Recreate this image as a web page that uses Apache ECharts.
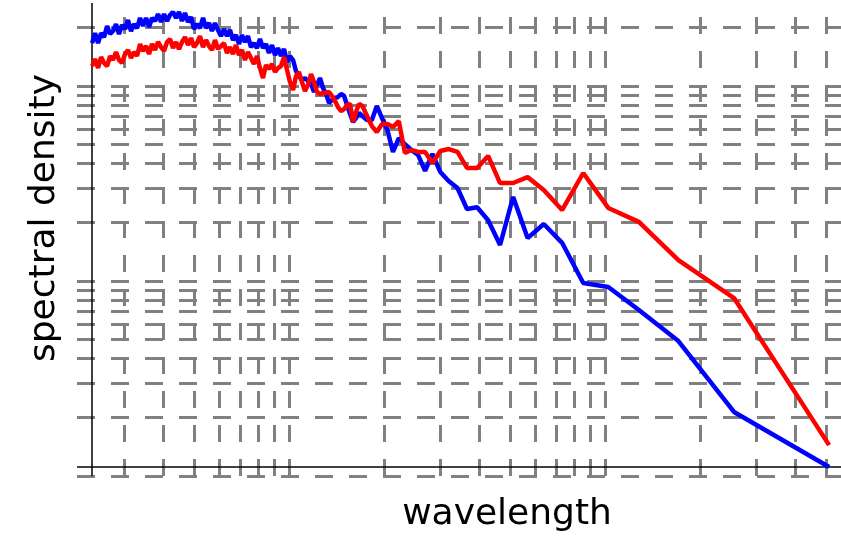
<!DOCTYPE html>
<html>
<head>
<meta charset="utf-8">
<script src="https://cdn.jsdelivr.net/npm/echarts@6/dist/echarts.min.js"></script>
<style>
  html, body { margin: 0; padding: 0; background: #fff; }
  #chart { width: 841px; height: 540px; }
</style>
</head>
<body>
<div id="chart"></div>
<script>
// wavelength samples (shared by both curves), ascending
const wavelength = [
  2.381, 2.433, 2.487, 2.542, 2.598, 2.656, 2.714, 2.773, 2.835, 2.897,
  2.961, 3.027, 3.093, 3.162, 3.232, 3.304, 3.377, 3.451, 3.528, 3.606,
  3.685, 3.767, 3.850, 3.935, 4.022, 4.111, 4.201, 4.294, 4.389, 4.486,
  4.585, 4.686, 4.790, 4.896, 5.004, 5.114, 5.227, 5.343, 5.461, 5.581,
  5.704, 5.830, 5.959, 6.091, 6.225, 6.363, 6.503, 6.647, 6.794, 6.944,
  7.097, 7.254, 7.414, 7.578, 7.746, 7.917, 8.092, 8.271, 8.454, 8.641,
  8.834, 9.030, 9.230, 9.434, 9.643, 9.856, 10.07, 10.30, 10.52, 10.75,
  10.99, 11.23, 11.48, 11.74, 12.00, 12.26, 12.53, 12.81, 13.10, 13.39,
  13.68, 13.98, 14.29, 14.61, 14.94, 15.26, 15.60, 15.94, 16.29, 16.66,
  17.07, 17.66, 18.29, 18.96, 19.69, 20.48, 21.33, 22.26, 23.27, 24.38,
  25.6, 26.95, 28.44, 30.12, 32, 34.13, 36.57, 39.38, 42.67, 46.55,
  51.2, 56.89, 64, 73.14, 85.33, 102.4, 128, 170.7, 256, 512
];

const blueDensity = [
  166.1, 186.9, 166.1, 186.9, 178.3, 203.1, 184.7, 191.4, 207.9, 184.7,
  205.5, 196.0, 218.0, 191.4, 207.9, 198.3, 223.2, 203.1, 223.2, 200.7,
  223.2, 215.4, 234.0, 212.9, 234.0, 215.4, 231.3, 239.6, 223.2, 239.6,
  215.4, 236.8, 212.9, 225.9, 196.0, 207.9, 198.3, 223.2, 198.3, 210.4,
  191.4, 210.4, 193.7, 180.4, 196.0, 180.4, 193.7, 172.1, 182.6, 164.2,
  182.6, 168.1, 180.4, 158.4, 166.1, 156.6, 174.1, 156.6, 164.2, 147.6,
  162.2, 144.2, 156.6, 142.5, 154.8, 132.8, 142.5, 135.9, 119.4, 112.5,
  107.3, 109.9, 106.1, 102.4, 93.2, 101.2, 109.9, 97.7, 91.0, 81.8,
  84.8, 86.8, 87.8, 91.0, 88.9, 79.9, 71.9, 65.4, 68.5, 72.7,
  70.2, 66.9, 66.9, 79.0, 68.5, 59.5, 45.9, 54.1, 50.4, 47.0,
  44.3, 36.7, 44.8, 36.2, 32.6, 30.0, 23.4, 23.9, 20.5, 15.3,
  27.0, 16.6, 19.6, 15.7, 9.77, 9.31, 7.10, 4.92, 2.13, 1.112
];

const redDensity = [
  126.6, 137.5, 123.7, 140.8, 131.2, 126.6, 142.5, 135.9, 149.4, 135.9,
  131.2, 145.9, 153.0, 139.2, 149.4, 142.5, 164.2, 151.2, 160.3, 145.9,
  164.2, 153.0, 168.1, 158.4, 151.2, 168.1, 174.1, 156.6, 168.1, 154.8,
  168.1, 178.3, 162.2, 176.2, 158.4, 166.1, 180.4, 158.4, 172.1, 160.3,
  153.0, 172.1, 154.8, 160.3, 166.1, 147.6, 158.4, 145.9, 162.2, 144.2,
  153.0, 135.9, 149.4, 139.2, 129.7, 142.5, 123.7, 109.9, 128.2, 122.2,
  129.7, 118.0, 123.7, 126.6, 140.8, 120.8, 104.8, 95.4, 112.5, 118.0,
  104.8, 94.3, 101.2, 115.2, 104.8, 93.2, 91.0, 92.1, 92.1, 93.2,
  88.9, 83.8, 78.0, 74.4, 76.2, 79.9, 80.9, 65.4, 73.6, 80.9,
  79.0, 70.2, 62.3, 58.1, 63.8, 63.8, 61.6, 66.1, 45.4, 47.0,
  45.9, 45.9, 40.3, 46.4, 47.5, 45.9, 38.0, 38.0, 43.8, 31.8,
  31.8, 34.1, 29.3, 23.1, 35.8, 23.7, 20.1, 12.8, 8.18, 1.44
];

// grid line positions (log decades with 2..9 minors)
const xGridValues = [3, 4, 5, 6, 7, 8, 9, 10, 20, 30, 40, 50, 60, 70, 80, 90, 100, 200, 300, 400, 500];
const yGridValues = [1, 2, 3, 4, 5, 6, 7, 8, 9, 10, 20, 30, 40, 50, 60, 70, 80, 90, 100, 200];

const chart = echarts.init(document.getElementById('chart'));

const vStyle = { color: '#808080', width: 3, type: [17, 17] };
const hStyle = { color: '#808080', width: 3, type: [18, 16] };
const hidden = {
  axisLine: { show: false },
  axisTick: { show: false },
  axisLabel: { show: false },
  splitLine: { show: false }
};

chart.setOption({
  animation: false,
  grid: { left: 77, right: 0, top: 3, bottom: 64 },
  xAxis: { type: 'log', min: 2.133, max: 558.3, ...hidden },
  yAxis: { type: 'log', min: 1, max: 266.5, ...hidden },
  graphic: [
    {
      type: 'text', x: 507, y: 515,
      style: {
        text: 'wavelength', font: '36px "DejaVu Sans"', fill: '#000',
        textAlign: 'center', textVerticalAlign: 'middle'
      }
    },
    {
      type: 'text', x: 45, y: 218, rotation: Math.PI / 2,
      style: {
        text: 'spectral density', font: '36px "DejaVu Sans"', fill: '#000',
        textAlign: 'center', textVerticalAlign: 'middle'
      }
    }
  ],
  series: [
    {
      type: 'line',
      data: [],
      markLine: {
        silent: true, symbol: 'none', z: 1,
        label: { show: false },
        data: [
          ...xGridValues.map(v => ({ xAxis: v, lineStyle: vStyle })),
          ...yGridValues.map(v => ({ yAxis: v, lineStyle: hStyle }))
        ]
      }
    },
    {
      type: 'line',
      data: [],
      markLine: {
        silent: true, symbol: 'none', z: 2,
        label: { show: false },
        lineStyle: { color: '#000', width: 1.5, type: 'solid' },
        data: [
          { xAxis: wavelength[0] },
          { yAxis: Math.min(...blueDensity, ...redDensity) }
        ]
      }
    },
    {
      type: 'line',
      data: wavelength.map((w, i) => [w, blueDensity[i]]),
      showSymbol: false, symbol: 'none', z: 3,
      lineStyle: { color: '#0000ff', width: 4.5 }
    },
    {
      type: 'line',
      data: wavelength.map((w, i) => [w, redDensity[i]]),
      showSymbol: false, symbol: 'none', z: 4,
      lineStyle: { color: '#ff0000', width: 4.5 }
    }
  ]
});
</script>
</body>
</html>
